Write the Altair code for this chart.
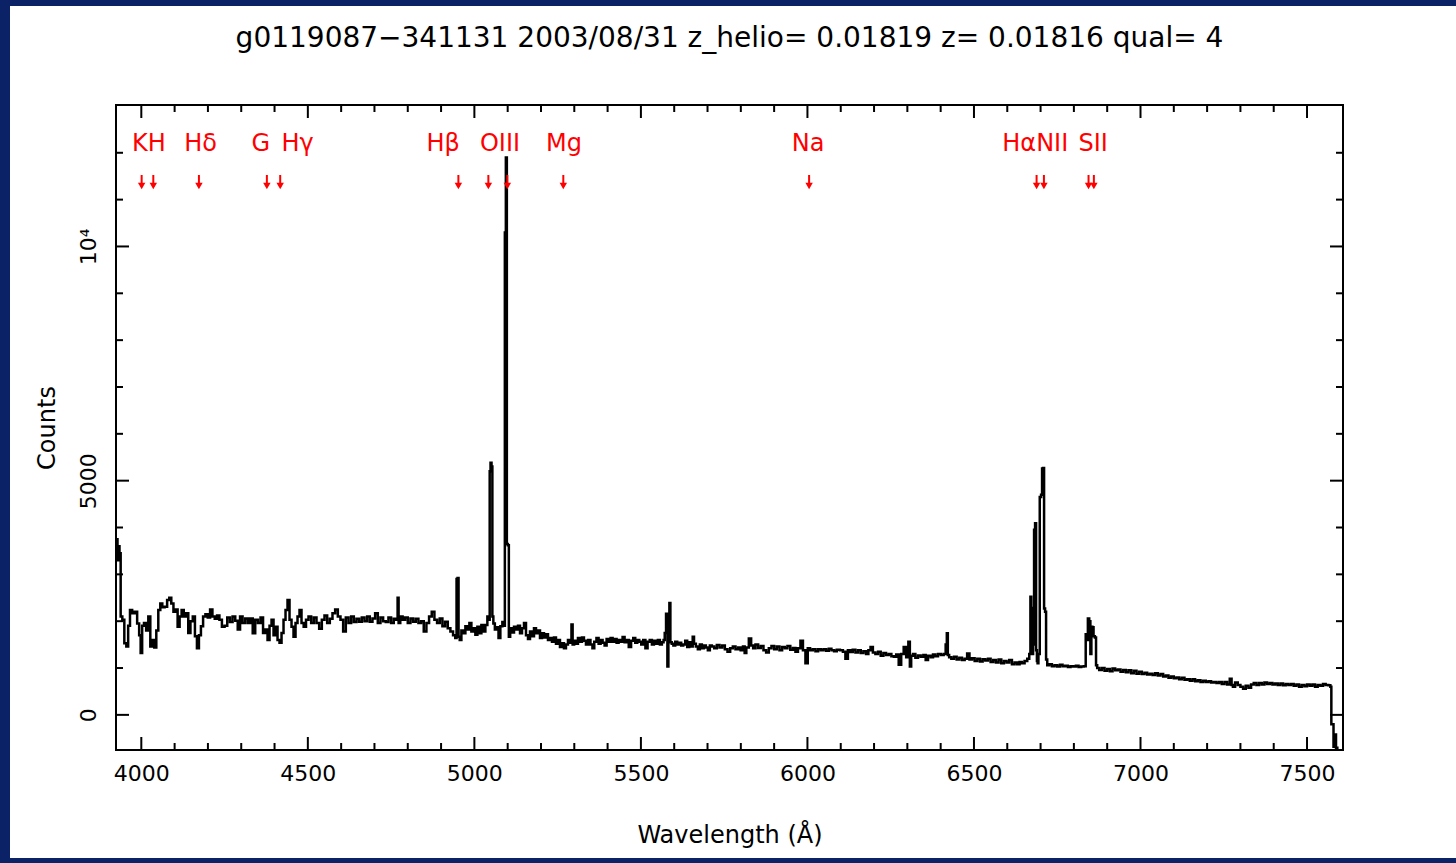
import altair as alt
import pandas as pd

FONT = "DejaVu Sans"
RED = "#FF0000"
BLUE = "#0B2366"

TITLE = "g0119087\u2212341131 2003/08/31 z_helio= 0.01819 z= 0.01816 qual= 4"

# ---- spectrum (wavelength in Angstrom, counts) ----
WAVE_A = [3924, 3927, 3930, 3933, 3936, 3940, 3946, 3952, 3958, 3963,
          3969, 3976, 3984, 3991, 3996, 4000, 4005, 4011, 4018, 4024,
          4030, 4036, 4042, 4048, 4054, 4060, 4066, 4074, 4081, 4087,
          4093, 4100, 4106, 4112, 4118, 4124, 4131, 4138, 4144, 4151,
          4158, 4164, 4170, 4176, 4182, 4189, 4196, 4203, 4210, 4217,
          4224, 4231, 4238, 4246, 4254, 4262, 4270, 4278, 4286, 4293,
          4300, 4308, 4316, 4324, 4331, 4338, 4346, 4354, 4362, 4369,
          4376, 4382, 4388, 4394, 4400, 4406, 4412, 4418, 4424, 4430,
          4436, 4442, 4448, 4454, 4460, 4466, 4472, 4478, 4484, 4491,
          4498, 4506, 4514, 4522, 4530, 4538, 4546, 4554, 4562, 4570,
          4578, 4586, 4594, 4602, 4610, 4618, 4626, 4634, 4642, 4650,
          4658, 4666, 4674, 4682, 4690, 4698, 4706, 4714, 4722, 4730,
          4738, 4746, 4754, 4762, 4768, 4771, 4774, 4781, 4788, 4796,
          4804, 4812, 4820, 4828, 4836]
COUNTS_A = [3600, 3750, 3300, 3600, 3450, 2100, 2030, 1530, 1460, 1900,
            2240, 2170, 2200, 1950, 1700, 1320, 1900, 1960, 1800, 2100,
            1460, 1600, 1440, 1800, 2240, 2380, 2300, 2310, 2450, 2500,
            2380, 2200, 2250, 1880, 2100, 2240, 2100, 2170, 1750, 2000,
            2100, 1680, 1420, 1700, 1890, 2100, 2150, 2080, 2250, 2100,
            2050, 2120, 2030, 1880, 1900, 2080, 1980, 2100, 2010, 1820,
            2100, 1960, 2060, 1960, 2060, 1740, 2030, 1960, 2080, 1750,
            1820, 1600, 1900, 2030, 1700, 1880, 1600, 1540, 1750, 2030,
            2240, 2450, 2030, 1880, 1670, 1960, 2100, 2240, 1960, 1880,
            2030, 2100, 1960, 2080, 1960, 1840, 2030, 2120, 1960, 2050,
            2170, 2250, 2100, 2030, 1780, 2080, 1960, 2100, 1980, 2050,
            1990, 2080, 2000, 2100, 1990, 2060, 2170, 1960, 2080, 2000,
            1980, 2080, 1960, 2050, 2030, 2500, 1960, 2100, 2030, 2080,
            1960, 2060, 1990, 2050, 1960]

WAVE_B = [4844, 4852, 4860, 4868, 4876, 4884, 4892, 4900, 4908, 4916,
          4924, 4932, 4940, 4945, 4948, 4951, 4954, 4958, 4964, 4970,
          4976, 4982, 4988, 4994, 5000, 5006, 5012, 5018, 5024, 5030,
          5036, 5042, 5045, 5047, 5050, 5053, 5055, 5059, 5064, 5070,
          5075, 5081, 5087, 5090, 5093, 5096, 5099, 5102, 5105, 5110,
          5116, 5122, 5128, 5134, 5140, 5146, 5152, 5158, 5164, 5170,
          5176, 5182, 5188, 5194, 5200, 5206, 5212, 5218, 5224, 5230,
          5236, 5242, 5248, 5254, 5260, 5266, 5272, 5278, 5284, 5290,
          5293, 5297, 5302, 5308, 5314, 5320, 5326, 5332, 5338, 5345,
          5352, 5357, 5363, 5370, 5376, 5382, 5388, 5394, 5400, 5406,
          5412, 5418, 5424, 5430, 5436, 5442, 5448, 5454, 5460, 5467,
          5474, 5480, 5486, 5492, 5498, 5504, 5510, 5517, 5523, 5530,
          5536, 5542, 5548, 5554, 5560, 5566, 5570, 5573, 5578, 5581,
          5584, 5587, 5590, 5595, 5600, 5606, 5612, 5618, 5624, 5630,
          5636, 5642, 5648, 5654, 5657, 5662, 5668, 5674, 5680, 5686,
          5692, 5698, 5704, 5710]
COUNTS_B = [2000, 1780, 1960, 2100, 2200, 2030, 1960, 2060, 1890, 1990,
            1850, 1780, 1700, 1640, 2900, 2920, 1670, 1600, 1800, 1740,
            1890, 1820, 1960, 1780, 1850, 1710, 1880, 1740, 1920, 1780,
            1920, 2100, 2030, 5200, 5380, 5300, 2100, 1950, 1820, 1870,
            1640, 1890, 1980, 1900, 10300, 11900, 3650, 3620, 1670, 1850,
            1760, 1880, 1820, 1900, 1740, 1850, 1960, 1700, 1620, 1780,
            1680, 1850, 1740, 1800, 1640, 1740, 1650, 1720, 1600, 1640,
            1560, 1650, 1520, 1600, 1450, 1530, 1420, 1500, 1600, 1540,
            1930, 1500, 1580, 1520, 1640, 1560, 1650, 1580, 1500, 1600,
            1500, 1420, 1560, 1640, 1520, 1600, 1540, 1480, 1620, 1560,
            1640, 1560, 1620, 1540, 1600, 1560, 1660, 1550, 1600, 1450,
            1580, 1640, 1540, 1600, 1560, 1500, 1600, 1420, 1560, 1600,
            1500, 1580, 1520, 1600, 1500, 1550, 1600, 1750, 2160, 1030,
            1600, 2390, 1550, 1520, 1480, 1560, 1500, 1540, 1480, 1500,
            1580, 1450, 1550, 1460, 1670, 1520, 1460, 1400, 1500, 1420,
            1480, 1440, 1380, 1480]

WAVE_C = [5716, 5724, 5732, 5740, 5748, 5756, 5764, 5772, 5780, 5788,
          5796, 5803, 5810, 5813, 5820, 5828, 5834, 5840, 5848, 5856,
          5864, 5872, 5880, 5888, 5896, 5904, 5912, 5920, 5928, 5936,
          5944, 5953, 5960, 5968, 5975, 5983, 5990, 5998, 6004, 6012,
          6020, 6028, 6036, 6044, 6052, 6060, 6068, 6076, 6084, 6092,
          6103, 6110, 6118, 6125, 6132, 6140, 6148, 6156, 6164, 6172,
          6180, 6186, 6193, 6200, 6208, 6216, 6224, 6232, 6240, 6248,
          6256, 6263, 6270, 6278, 6285, 6293, 6300, 6306, 6309, 6314,
          6320, 6328, 6336, 6344, 6352, 6358, 6366, 6374, 6380, 6388,
          6396, 6405, 6413, 6417, 6420, 6423, 6428, 6436, 6444, 6452,
          6460, 6468, 6476, 6483, 6490, 6498, 6506, 6514, 6522, 6530,
          6538, 6546, 6554, 6562, 6570, 6578, 6586, 6594, 6602, 6610,
          6618, 6626, 6634]
COUNTS_C = [1460, 1420, 1490, 1440, 1480, 1400, 1350, 1420, 1460, 1400,
            1440, 1380, 1460, 1320, 1440, 1630, 1480, 1420, 1500, 1430,
            1470, 1380, 1330, 1420, 1470, 1400, 1460, 1380, 1450, 1420,
            1470, 1390, 1430, 1350, 1420, 1580, 1380, 1100, 1420, 1380,
            1400, 1360, 1400, 1380, 1400, 1370, 1410, 1380, 1360, 1390,
            1380, 1350, 1200, 1380, 1340, 1390, 1330, 1380, 1320, 1360,
            1300, 1380, 1450, 1330, 1300, 1350, 1260, 1320, 1280, 1300,
            1250, 1240, 1290, 1070, 1300, 1450, 1230, 1560, 1030, 1260,
            1300, 1220, 1270, 1240, 1280, 1170, 1260, 1230, 1290, 1250,
            1300, 1280, 1300, 1500, 1740, 1280, 1230, 1200, 1240, 1180,
            1220, 1170, 1200, 1310, 1180, 1210, 1150, 1200, 1140, 1190,
            1160, 1200, 1130, 1170, 1120, 1180, 1100, 1150, 1120, 1170,
            1080, 1120, 1080]

WAVE_D = [6640, 6648, 6656, 6664, 6668, 6671, 6673, 6676, 6679, 6682,
          6685, 6688, 6690, 6692, 6695, 6700, 6703, 6706, 6709, 6712,
          6715, 6718, 6722, 6730, 6738, 6746, 6754, 6762, 6770, 6778,
          6786, 6794, 6802, 6810, 6818, 6826, 6834, 6837, 6840, 6844,
          6848, 6851, 6854, 6857, 6861, 6865, 6868, 6872, 6880, 6888,
          6896, 6904, 6912, 6920, 6928, 6936, 6944, 6952, 6960, 6968,
          6976, 6984, 6992, 7000, 7008, 7016, 7024, 7032, 7040, 7048,
          7056, 7064, 7072, 7080, 7088, 7096, 7104, 7112, 7120, 7128,
          7136, 7144, 7152, 7160, 7168, 7176, 7184, 7192, 7200, 7208,
          7216, 7224, 7232, 7240, 7248, 7256, 7264, 7272, 7275, 7280,
          7288, 7296, 7304, 7312, 7320, 7328, 7336, 7344, 7352, 7360,
          7368, 7376, 7384, 7392, 7400, 7408, 7416, 7424, 7432, 7440,
          7448, 7456, 7464, 7472, 7480, 7488, 7496, 7504, 7512, 7520,
          7528, 7536, 7544, 7552, 7560, 7568, 7572, 7574, 7578, 7581,
          7585, 7589, 7593, 7608]
COUNTS_D = [1130, 1100, 1150, 1200, 1300, 2520, 2280, 1300, 1500, 3950,
            4090, 1380, 1150, 1100, 1300, 4650, 4700, 5260, 5270, 2270,
            2200, 1180, 1060, 1080, 1040, 1060, 1030, 1070, 1040, 1050,
            1020, 1040, 1030, 1050, 1020, 1030, 1040, 1720, 1600, 2060,
            2000, 1300, 1880, 1870, 1680, 1650, 1060, 1000, 960, 1000,
            940, 980, 930, 990, 950, 970, 920, 960, 910, 950,
            890, 940, 880, 920, 870, 900, 860, 880, 850, 890,
            840, 870, 820, 840, 790, 820, 780, 800, 760, 790,
            750, 760, 730, 760, 720, 740, 700, 730, 700, 720,
            690, 700, 680, 700, 660, 700, 650, 770, 640, 600,
            690, 640, 600, 560, 620, 580, 650, 680, 640, 680,
            650, 690, 660, 680, 650, 670, 640, 670, 630, 660,
            640, 660, 620, 650, 600, 640, 610, 650, 620, 650,
            600, 640, 620, 660, 640, 630, 600, -200, -200, -680,
            -420, -700, -800, -800]

WAVE = WAVE_A + WAVE_B + WAVE_C + WAVE_D
COUNTS = COUNTS_A + COUNTS_B + COUNTS_C + COUNTS_D
assert len(WAVE) == len(COUNTS)

# ---- axes ----
X_DOMAIN = [3924, 7608]
Y_DOMAIN = [-750, 13020]
X_MAJOR = [4000, 4500, 5000, 5500, 6000, 6500, 7000, 7500]
X_MINOR = [4100, 4200, 4300, 4400, 4600, 4700, 4800, 4900, 5100, 5200,
           5300, 5400, 5600, 5700, 5800, 5900, 6100, 6200, 6300, 6400,
           6600, 6700, 6800, 6900, 7100, 7200, 7300, 7400]
Y_MAJOR = [0, 5000, 10000]
Y_MINOR = [1000, 2000, 3000, 4000, 6000, 7000, 8000, 9000, 11000, 12000]

# ---- line identifications ----
LINE_LABELS = ["KH", "H\u03b4", "G", "H\u03b3", "H\u03b2", "OIII", "Mg", "Na",
               "H\u03b1NII", "SII"]
LINE_LABEL_WAVE = [4023, 4178, 4359, 4469, 4906, 5077, 5269, 6002, 6684, 6858]
ARROW_WAVE = [4001, 4036, 4173, 4377, 4417, 4952, 5042, 5099, 5267, 6005,
              6688, 6710, 6844, 6860]

W, H = 1227, 645
MAJ, MIN = 13, 7

xs = alt.Scale(domain=X_DOMAIN, nice=False, zero=False)
ys = alt.Scale(domain=Y_DOMAIN, nice=False, zero=False)

X_AXIS = alt.Axis(
    values=X_MAJOR, ticks=False, tickSize=0, domain=False, grid=False,
    labelFont=FONT, labelFontSize=22, labelColor="black", labelPadding=13,
    labelFlush=False, labelOverlap=False, format="d",
    title="Wavelength (\u00c5)", titleFont=FONT, titleFontSize=24,
    titleFontWeight="normal", titleColor="black", titlePadding=39, zindex=1)
Y_AXIS = alt.Axis(
    values=Y_MAJOR, ticks=False, tickSize=0, domain=False, grid=False,
    labelExpr="datum.value == 10000 ? '10\u2074' : format(datum.value, 'd')",
    labelAngle=270, labelAlign="center", labelBaseline="bottom",
    labelFont=FONT, labelFontSize=22, labelColor="black", labelPadding=16,
    labelFlush=False, labelOverlap=False,
    title="Counts", titleFont=FONT, titleFontSize=24, titleFontWeight="normal",
    titleColor="black", titlePadding=18, zindex=1)

XENC = alt.X("wl:Q", scale=xs, axis=X_AXIS)
YENC = alt.Y("counts:Q", scale=ys, axis=Y_AXIS)

one = pd.DataFrame({"k": [0]})

# blue slide border (outside the white panel)
strip_left = alt.Chart(one).mark_rect(color=BLUE).encode(
    x=alt.value(-116), x2=alt.value(-106), y=alt.value(-105), y2=alt.value(758))
strip_top = alt.Chart(one).mark_rect(color=BLUE).encode(
    x=alt.value(-116), x2=alt.value(W + 113), y=alt.value(-105), y2=alt.value(-99))
strip_bottom = alt.Chart(one).mark_rect(color=BLUE).encode(
    x=alt.value(-116), x2=alt.value(W + 113), y=alt.value(H + 108), y2=alt.value(H + 113))

spec_df = pd.DataFrame({"wl": WAVE, "counts": COUNTS})
spectrum = alt.Chart(spec_df).mark_line(
    color="black", strokeWidth=2.5, interpolate="step", clip=True
).encode(x=XENC, y=YENC)


def xticks(vals, length, top):
    df = pd.DataFrame({"wl": vals})
    y0, y1 = (0, length) if top else (H, H - length)
    return alt.Chart(df).mark_rule(color="black", strokeWidth=2).encode(
        x=XENC, y=alt.value(y0), y2=alt.value(y1))


def yticks(vals, length, right):
    df = pd.DataFrame({"counts": vals})
    x0, x1 = (W, W - length) if right else (0, length)
    return alt.Chart(df).mark_rule(color="black", strokeWidth=2).encode(
        y=YENC, x=alt.value(x0), x2=alt.value(x1))


tick_layers = [
    xticks(X_MAJOR, MAJ, False), xticks(X_MINOR, MIN, False),
    xticks(X_MAJOR, MAJ, True), xticks(X_MINOR, MIN, True),
    yticks(Y_MAJOR, MAJ, False), yticks(Y_MINOR, MIN, False),
    yticks(Y_MAJOR, MAJ, True), yticks(Y_MINOR, MIN, True),
]

lab_df = pd.DataFrame({"wl": LINE_LABEL_WAVE, "name": LINE_LABELS})
labels = alt.Chart(lab_df).mark_text(
    color=RED, font=FONT, fontSize=24, align="center", baseline="middle"
).encode(x=XENC, y=alt.value(39), text="name:N")

# arrows drawn as a short stem plus a small downward head
arr_df = pd.DataFrame({"wl": ARROW_WAVE})
arrow_stem = alt.Chart(arr_df).mark_rule(color=RED, strokeWidth=2).encode(
    x=XENC, y=alt.value(70), y2=alt.value(82))
arrow_head = alt.Chart(arr_df).mark_point(
    shape="triangle-down", filled=True, color=RED, size=55, opacity=1
).encode(x=XENC, y=alt.value(81))

title_df = pd.DataFrame({"t": [TITLE]})
title = alt.Chart(title_df).mark_text(
    color="black", font=FONT, fontSize=28, align="center", baseline="alphabetic"
).encode(x=alt.value(W / 2), y=alt.value(-58), text="t:N")

chart = alt.layer(
    strip_left, strip_top, strip_bottom, spectrum, *tick_layers, labels,
    arrow_stem, arrow_head, title
).properties(
    width=W, height=H,
    padding={"left": 116, "top": 105, "right": 113, "bottom": 113},
    autosize=alt.AutoSizeParams(type="none"),
).configure(background="white").configure_view(stroke="black", strokeWidth=2)

chart.save("out.html", embed_options={"renderer": "svg", "actions": False})
